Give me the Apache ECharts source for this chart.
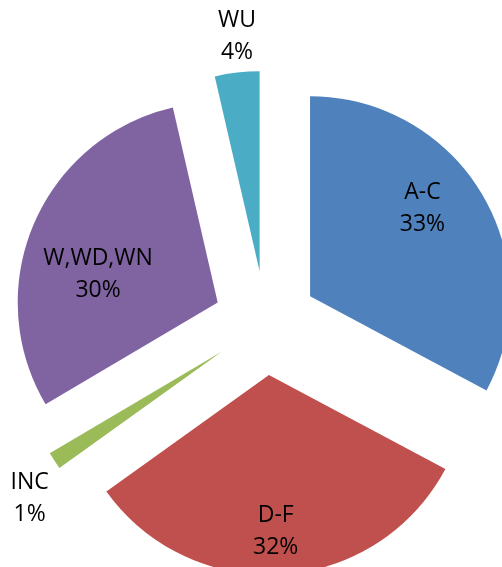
<!DOCTYPE html>
<html>
<head>
<meta charset="utf-8">
<script src="https://cdn.jsdelivr.net/npm/echarts@6/dist/echarts.min.js"></script>
<style>
html,body{margin:0;padding:0;background:#fff;}
#chart{width:502px;height:567px;}
</style>
</head>
<body>
<div id="chart"></div>
<script>
var categories = ['A-C', 'D-F', 'INC', 'W,WD,WN', 'WU'];
var values = [32.8, 32.3, 1.4, 29.9, 3.6];
var colors = ['#4F81BD', '#C0504D', '#9BBB59', '#8064A2', '#4BACC6'];

// label nudges (pixels) relative to ECharts' inside label position
var labelShift = [[24, -35], [0, 54], [-106, 91], [-25, 13], [-11, -133]];

var chart = echarts.init(document.getElementById('chart'), null, {renderer: 'canvas'});
var total = values.reduce(function (a, b) { return a + b; }, 0);
chart.setOption({
  backgroundColor: '#ffffff',
  animation: false,
  series: [{
    type: 'pie',
    center: [265.5, 323],
    radius: [0, 200],
    startAngle: 90,
    clockwise: true,
    selectedMode: 'multiple',
    selectedOffset: 52,
    avoidLabelOverlap: false,
    emphasis: {disabled: true},
    label: {
      show: true,
      position: 'inside',
      color: '#000',
      fontFamily: 'Open Sans',
      fontSize: 23,
      lineHeight: 32,
      align: 'center',
      formatter: function (p) {
        return p.name + '\n' + Math.round(p.value / total * 100) + '%';
      }
    },
    labelLine: {show: false},
    labelLayout: function (p) {
      var s = labelShift[p.dataIndex];
      return {dx: s[0], dy: s[1]};
    },
    itemStyle: {borderWidth: 0},
    data: categories.map(function (c, i) {
      return {name: c, value: values[i], selected: true, itemStyle: {color: colors[i]}};
    })
  }]
});
</script>
</body>
</html>
